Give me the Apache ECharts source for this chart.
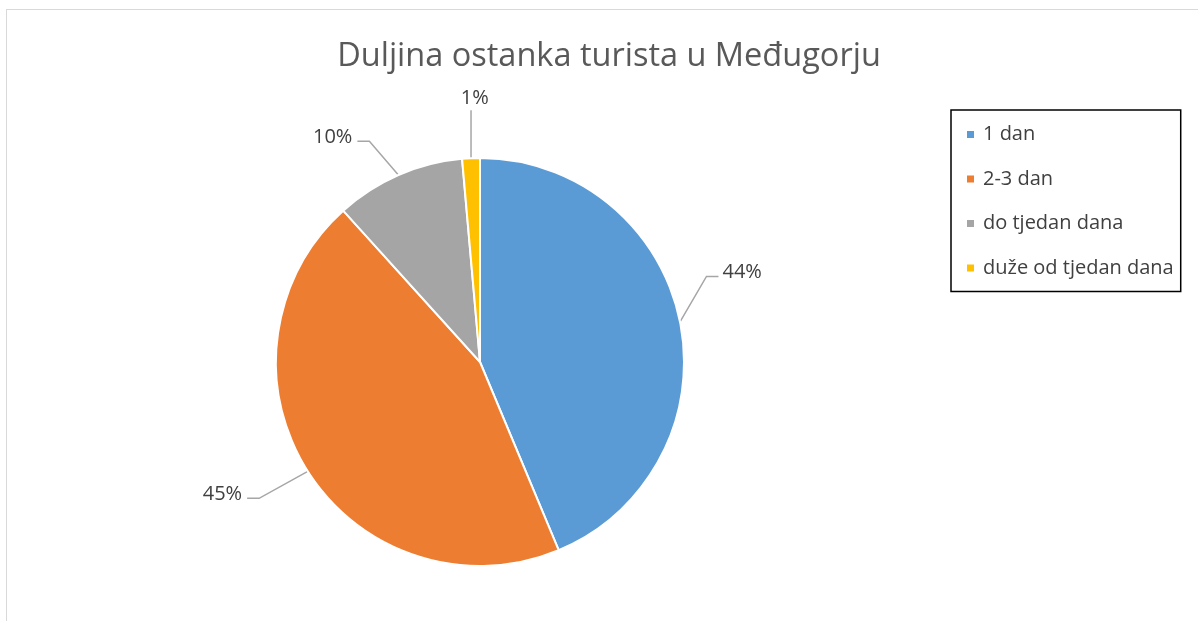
<!DOCTYPE html>
<html>
<head>
<meta charset="utf-8">
<script src="https://cdn.jsdelivr.net/npm/echarts@6/dist/echarts.min.js"></script>
<style>
  html, body { margin: 0; padding: 0; background: #fff; }
  #frame {
    position: absolute; left: 6px; top: 9px; width: 1192px; height: 612px;
    border-top: 1.5px solid #d9d9d9; border-left: 1.5px solid #d9d9d9;
  }
  #chart { position: absolute; left: 0; top: 0; width: 1198px; height: 621px; }
</style>
</head>
<body>
<div id="frame"></div>
<div id="chart"></div>
<script>
const categories = ['1 dan', '2-3 dan', 'do tjedan dana', 'duže od tjedan dana'];
const shares = [43.7, 44.6, 10.3, 1.4];
const colors = ['#5B9BD5', '#ED7D31', '#A5A5A5', '#FFC000'];

const chart = echarts.init(document.getElementById('chart'));

// nudge the labels to where Excel put them
const labelNudge = (i) => [[-6, -44], [-21, 8], [-12, -15], [40, -32]][i];

// Excel style leader: slanted piece from the slice, short flat piece to the label
const placeLabel = (p) => {
  const [dx, dy] = labelNudge(p.dataIndex);
  const r = p.labelRect;
  const x0 = r.x + dx;
  const y0 = r.y + dy;
  const start = p.labelLinePoints[0];
  const cy = y0 + r.height / 2 + 4;
  let bend, end;
  if (p.dataIndex === 3) {
    end = [start[0], y0 + r.height + 2];
    bend = end;
  } else if (x0 > 480) {
    end = [x0 - 4, cy];
    bend = [end[0] - 12, cy];
  } else {
    end = [x0 + r.width + 5, cy];
    bend = [end[0] + 12, cy];
  }
  return { dx, dy, labelLinePoints: [start, bend, end] };
};

const option = {
  animation: false,
  title: {
    text: 'Duljina ostanka turista u Međugorju',
    left: 604,
    top: 35,
    textAlign: 'center',
    textStyle: {
      fontFamily: 'Open Sans',
      fontSize: 32.5,
      fontWeight: 'normal',
      color: '#595959',
    },
  },
  legend: {
    orient: 'vertical',
    left: 951,
    top: 110,
    padding: [13, 7, 12, 14],
    borderColor: '#000',
    borderWidth: 1.5,
    itemWidth: 9,
    itemHeight: 9,
    itemGap: 21.5,
    icon: 'rect',
    data: categories,
    textStyle: {
      fontFamily: 'Open Sans',
      fontSize: 20,
      lineHeight: 23,
      color: '#404040',
      padding: [0, 0, 0, 3],
    },
  },
  series: [
    {
      type: 'pie',
      center: [480, 362],
      radius: 204,
      startAngle: 90,
      clockwise: true,
      itemStyle: { borderColor: '#fff', borderWidth: 2 },
      label: {
        show: true,
        formatter: (p) => Math.round(p.value) + '%',
        fontFamily: 'Open Sans',
        fontSize: 20,
        color: '#404040',
      },
      labelLine: {
        show: true,
        length: 28,
        length2: 16,
        lineStyle: { color: '#a6a6a6', width: 1.5 },
      },
      labelLayout: placeLabel,
      data: categories.map((name, i) => ({
        name,
        value: shares[i],
        itemStyle: { color: colors[i] },
      })),
    },
  ],
};

chart.setOption(option);
</script>
</body>
</html>
